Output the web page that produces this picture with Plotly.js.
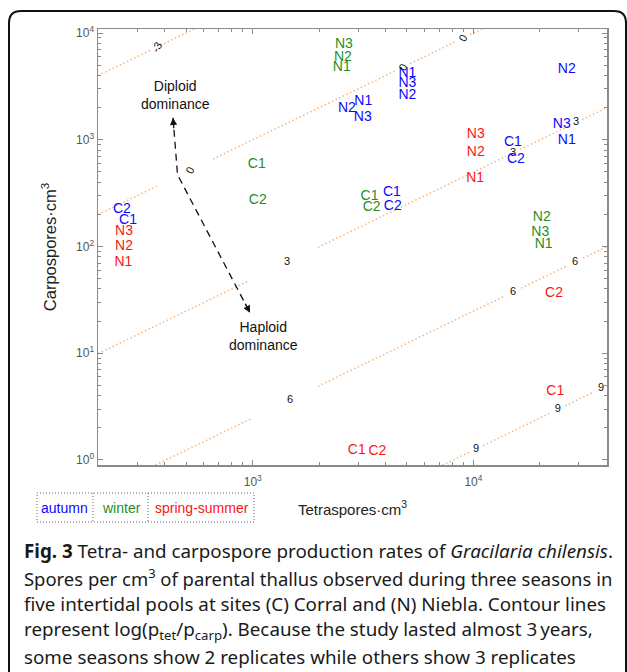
<!DOCTYPE html>
<html>
<head>
<meta charset="utf-8">
<script src="https://cdn.plot.ly/plotly-3.0.1.min.js"></script>
<style>
html,body{margin:0;padding:0;background:#fff;}
#chart{width:627px;height:672px;}
</style>
</head>
<body>
<div id="chart"></div>
<script>
// ---------------- DATA ----------------
// autumn (blue)
const autumnText = ["C2","C1","N2","N1","N3","N1","N3","N2","N2","N3","N1","C1","C2","C1","C2"];
const autumnTet  = [255, 272, 2670, 3170, 3150, 5020, 5020, 5020, 26500, 25150, 26500, 15090, 15570, 4270, 4310];
const autumnCarp = [221, 175, 1980, 2290, 1630, 4220, 3350, 2590, 4600, 1380, 985, 943, 649, 321, 237];
// winter (green)
const winterText = ["N3","N2","N1","C1","C2","C1","C2","N2","N3","N1"];
const winterTet  = [2590, 2560, 2530, 1042, 1054, 3380, 3460, 20400, 20100, 20800];
const winterCarp = [7770, 5960, 4800, 583, 270, 294, 232, 187, 136, 104];
// spring-summer (red)
const springText = ["N3","N2","N1","N3","N2","N1","C2","C1","C1","C2"];
const springTet  = [261, 261, 259, 10250, 10250, 10180, 23200, 23500, 2960, 3670];
const springCarp = [138, 100, 70.8, 1114, 760, 437, 36.5, 4.37, 1.24, 1.20];

// contour levels of ln(p_tet / p_carp) and the visible pieces of each line (tetraspore range)
const contourLevels   = [-3, 0, 3, 6, 9];
const contourSegStart = [[199, 396], [199, 661, 5166, 9663], [199, 1977, 16290, 31100], [300, 1977, 16450, 31420], [6000, 11070, 26050]];
const contourSegEnd   = [[350, 600], [368, 4467, 8355, 12000], [952, 14060, 26850, 41000], [993, 13920, 26590, 41000], [9570, 22270, 35230]];
// inline contour labels
const labelLevels = [-3, 0, 0, 0, 3, 3, 3, 6, 6, 6, 9, 9, 9];
const labelTet    = [368, 520, 4800, 8970, 1429, 15140, 29200, 1476, 15140, 28900, 10280, 24150, 37900];

// dominance arrow path (top tip, bend, bottom tip)
const arrowTet  = [435, 456, 972];
const arrowCarp = [1607, 470, 23.9];

// axis ticks
const xTickVals = [1000, 10000];
const xTickText = ["10<sup>3</sup>", "10<sup>4</sup>"];
const yTickVals = [1, 10, 100, 1000, 10000];
const yTickText = ["10<sup>0</sup>", "10<sup>1</sup>", "10<sup>2</sup>", "10<sup>3</sup>", "10<sup>4</sup>"];
const decadesX = [100, 1000, 10000];
const decadesY = [1, 10, 100, 1000];

const seasonNames  = ["autumn", "winter", "spring-summer"];
const seasonColors = ["#0a0aff", "#1f8f1f", "#ff1414"];

const captionLines = [
  "<b>Fig. 3</b> Tetra- and carpospore production rates of <i>Gracilaria chilensis</i>.",
  "Spores per cm<sup>3</sup> of parental thallus observed during three seasons in",
  "five intertidal pools at sites (C) Corral and (N) Niebla. Contour lines",
  "represent log(p<sub>tet</sub>/p<sub>carp</sub>). Because the study lasted almost 3\u2009years,",
  "some seasons show 2 replicates while others show 3 replicates"
];

// ---------------- LAYOUT HELPERS ----------------
const W = 627, H = 672;
const M = {l: 98, r: 20, t: 29, b: 207};
const PW = W - M.l - M.r, PH = H - M.t - M.b;
const XR = [2.2985, 4.6055], YR = [-0.047, 4.038];
const pxX = px => (px - M.l) / PW;          // pixel -> paper
const pxY = py => (H - M.b - py) / PH;
const toPixX = v => M.l + (Math.log10(v) - XR[0]) / (XR[1] - XR[0]) * PW;
const toPixY = v => H - M.b - (Math.log10(v) - YR[0]) / (YR[1] - YR[0]) * PH;

function minorVals(decs, lo, hi) {
  const out = [];
  decs.forEach(d => { for (let k = 2; k <= 9; k++) { const v = d * k; if (v >= lo && v <= hi) out.push(v); } });
  return out;
}

const FONT = "Liberation Sans, Arial, Helvetica, sans-serif";
const traces = [];

// contour lines
contourLevels.forEach((lev, i) => {
  const xs = [], ys = [];
  contourSegStart[i].forEach((s, j) => {
    const e = contourSegEnd[i][j];
    xs.push(s, e, null);
    ys.push(s * Math.exp(-lev), e * Math.exp(-lev), null);
  });
  traces.push({type: "scatter", mode: "lines", x: xs, y: ys, hoverinfo: "skip", showlegend: false,
    line: {color: "#f7b47c", width: 1.5, dash: "1.5px,2.5px"}});
});

// contour labels
const upX = [], upY = [], upT = [];
const rotAnn = [];
labelLevels.forEach((lev, i) => {
  const x = labelTet[i], y = x * Math.exp(-lev);
  if (lev <= 0) {
    rotAnn.push({xref: "x", yref: "y", x: Math.log10(x), y: Math.log10(y), xanchor: "center", yanchor: "middle",
      text: String(lev), showarrow: false, textangle: -62, font: {family: FONT, size: 11, color: "#111"}});
  } else { upX.push(x); upY.push(y); upT.push(String(lev)); }
});
traces.push({type: "scatter", mode: "text", x: upX, y: upY, text: upT, textposition: "middle center",
  textfont: {family: FONT, size: 11, color: "#111"}, hoverinfo: "skip", showlegend: false, cliponaxis: false});

// dashed arrow
traces.push({type: "scatter", mode: "lines", x: arrowTet, y: arrowCarp, hoverinfo: "skip", showlegend: false,
  line: {color: "#111", width: 1.3, dash: "7px,5px"}});

// data labels
[[autumnTet, autumnCarp, autumnText], [winterTet, winterCarp, winterText], [springTet, springCarp, springText]].forEach((s, i) => {
  traces.push({type: "scatter", mode: "text", name: seasonNames[i], x: s[0], y: s[1], text: s[2],
    textposition: "middle center", textfont: {family: FONT, size: 14, color: seasonColors[i]},
    showlegend: false, cliponaxis: false, hovertemplate: "%{text}<br>%{x}, %{y}<extra>" + seasonNames[i] + "</extra>"});
});

// arrowheads
function head(tipI, fromI) {
  const tx = toPixX(arrowTet[tipI]), ty = toPixY(arrowCarp[tipI]);
  const fx = toPixX(arrowTet[fromI]), fy = toPixY(arrowCarp[fromI]);
  const d = Math.hypot(tx - fx, ty - fy), L = 12;
  return {xref: "x", yref: "y", x: Math.log10(arrowTet[tipI]), y: Math.log10(arrowCarp[tipI]),
    ax: -(tx - fx) / d * L, ay: -(ty - fy) / d * L, axref: "pixel", ayref: "pixel", text: "",
    showarrow: true, arrowhead: 2, arrowsize: 1.1, arrowwidth: 1.3, arrowcolor: "#111", standoff: 0};
}

function txt(px, py, text, color, size) {
  return {xref: "paper", yref: "paper", x: pxX(px), y: pxY(py), xanchor: "center", yanchor: "middle",
    text: text, showarrow: false, font: {family: FONT, size: size, color: color}};
}

const annotations = [
  ...rotAnn,
  head(0, 1), head(2, 1),
  txt(175, 94.5, "Diploid<br>dominance", "#111", 14),
  txt(263, 336, "Haploid<br>dominance", "#111", 14),
  txt(64, 508, seasonNames[0], seasonColors[0], 14),
  txt(121, 508, seasonNames[1], seasonColors[1], 14),
  txt(202, 508, seasonNames[2], seasonColors[2], 14)
];
const capY = [551, 577, 604, 630, 657];
const capSize = [18.8, 18.45, 18.8, 18.8, 18.8];
captionLines.forEach((t, i) => {
  annotations.push({xref: "paper", yref: "paper", x: pxX(22), y: pxY(capY[i]), xanchor: "left", yanchor: "middle",
    text: t, showarrow: false, font: {family: "Noto Sans, Open Sans, sans-serif", size: capSize[i], color: "#1a1a1a"}});
});

const dotted = {color: "#666", width: 1, dash: "1px,2px"};
const shapes = [
  // figure frame (rounded corners)
  {type: "path", xref: "paper", yref: "paper", line: {color: "#111", width: 2},
   path: `M ${pxX(9)} ${pxY(720)} L ${pxX(9)} ${pxY(23)} Q ${pxX(9)} ${pxY(11)} ${pxX(21)} ${pxY(11)} L ${pxX(614)} ${pxY(11)} Q ${pxX(626)} ${pxY(11)} ${pxX(626)} ${pxY(23)} L ${pxX(626)} ${pxY(720)}`},
  // legend box
  {type: "rect", xref: "paper", yref: "paper", x0: pxX(37), x1: pxX(254), y0: pxY(493), y1: pxY(522), line: dotted},
  {type: "line", xref: "paper", yref: "paper", x0: pxX(93), x1: pxX(93), y0: pxY(493), y1: pxY(522), line: dotted},
  {type: "line", xref: "paper", yref: "paper", x0: pxX(148), x1: pxX(148), y0: pxY(493), y1: pxY(522), line: dotted}
];

const axisCommon = {
  type: "log", showline: true, linecolor: "#8a8a8a", linewidth: 1.5, mirror: "ticks",
  ticks: "inside", ticklen: 5, tickwidth: 1, tickcolor: "#8a8a8a", showgrid: false, zeroline: false,
  tickfont: {family: FONT, size: 12, color: "#555"}
};

const layout = {
  width: W, height: H, margin: M, paper_bgcolor: "#fff", plot_bgcolor: "#fff", showlegend: false,
  font: {family: FONT},
  xaxis: Object.assign({}, axisCommon, {
    range: XR, tickmode: "array", tickvals: xTickVals, ticktext: xTickText, ticklabelstandoff: 5,
    minor: {tickmode: "array", tickvals: minorVals(decadesX, 199, 40400), ticks: "inside", ticklen: 3, tickcolor: "#8a8a8a", tickwidth: 1},
    title: {text: "Tetraspores\u00b7cm<sup>3</sup>", font: {family: FONT, size: 15, color: "#222"}, standoff: 16}
  }),
  yaxis: Object.assign({}, axisCommon, {
    range: YR, tickmode: "array", tickvals: yTickVals, ticktext: yTickText,
    minor: {tickmode: "array", tickvals: minorVals(decadesY, 0.9, 10900), ticks: "inside", ticklen: 3, tickcolor: "#8a8a8a", tickwidth: 1},
    title: {text: "Carpospores\u00b7cm<sup>3</sup>", font: {family: FONT, size: 16.5, color: "#222"}, standoff: 15}
  }),
  annotations: annotations,
  shapes: shapes
};

Plotly.newPlot("chart", traces, layout, {displayModeBar: false, staticPlot: true});
</script>
</body>
</html>
